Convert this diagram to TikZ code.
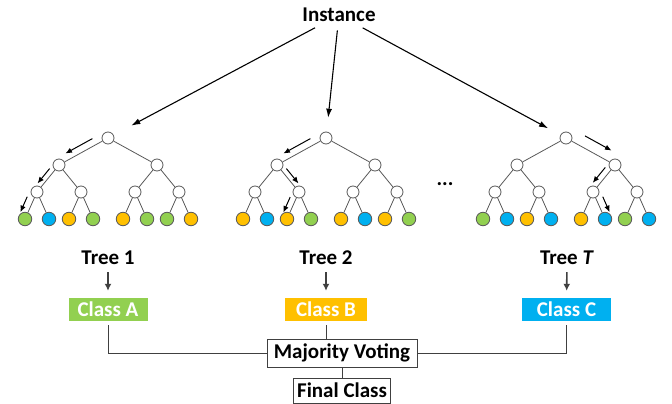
\documentclass[tikz,border=0pt]{standalone}
\usepackage{fontspec}
\setmainfont{Carlito}
\usetikzlibrary{arrows.meta,calc}
\definecolor{Ink}{HTML}{404040}
\definecolor{Edge}{HTML}{595959}
\definecolor{Green}{HTML}{92D050}
\definecolor{Blue}{HTML}{00B0F0}
\definecolor{Orange}{HTML}{FFC000}
\tikzset{inner/.style={circle,draw=Edge,fill=white,line width=.8pt,minimum size=12pt,inner sep=0pt},leaf/.style={circle,draw=Edge,line width=.8pt,minimum size=13.5pt,inner sep=0pt},edge/.style={draw=Edge,line width=.8pt},walk/.style={-{Latex[length=6.5pt,width=5.5pt]},line width=1pt},feed/.style={-{Latex[length=9pt,width=6pt]},line width=1.1pt,shorten <=5pt,shorten >=14pt},down/.style={-{Latex[length=7pt,width=7pt]},draw=Ink,line width=1.6pt,shorten <=7pt,shorten >=7pt},cls/.style={text=white,minimum height=23pt,inner sep=0pt},vote/.style={draw=Ink,fill=white,line width=.9pt,inner sep=0pt},link/.style={draw=Ink,line width=.9pt}}

\begin{document}
\begin{tikzpicture}[x=1pt,y=-1pt,every node/.style={font=\fontsize{21}{25}\selectfont\bfseries}]
  \useasboundingbox (0,0) rectangle (672,404);
  \node (inst) at (339,15) {Instance};
  % the three trees
  \foreach \t/\x/\ka/\kb/\kc/\kd/\ke/\kf/\kg/\kh in {1/108/Green/Blue/Orange/Green/Orange/Green/Green/Orange,2/326/Orange/Blue/Orange/Green/Orange/Blue/Orange/Green,3/566/Green/Blue/Orange/Blue/Orange/Blue/Green/Blue}{
    \node[inner](t\t-0) at (\x,138){};
    \node[inner](t\t-1) at (\x-49,165){};
    \node[inner](t\t-2) at (\x+49,165){};
    \node[inner](t\t-11) at (\x-71,192){};
    \node[inner](t\t-12) at (\x-27,192){};
    \node[inner](t\t-21) at (\x+27,192){};
    \node[inner](t\t-22) at (\x+71,192){};
    \draw[edge](t\t-0)--(t\t-1) (t\t-0)--(t\t-2) (t\t-1)--(t\t-11) (t\t-1)--(t\t-12) (t\t-2)--(t\t-21) (t\t-2)--(t\t-22);
    \foreach \d/\p/\col [count=\i] in {-83/11/\ka,-59/11/\kb,-39/12/\kc,-15/12/\kd,15/21/\ke,39/21/\kf,59/22/\kg,83/22/\kh}{
      \node[leaf,fill=\col](t\t-l\i) at (\x+\d,219){};
      \draw[edge](t\t-\p)--(t\t-l\i);
    }
  }
  \node (dots) at (445,184) {...};
  % paths of the instance through the trees
  \draw[walk]($(t1-0)!.25!(t1-1)!7pt!-90:(t1-1)$)--($(t1-0)!.8!(t1-1)!7pt!-90:(t1-1)$);
  \draw[walk]($(t1-1)!.25!(t1-11)!5pt!-90:(t1-11)$)--($(t1-1)!.8!(t1-11)!5pt!-90:(t1-11)$);
  \draw[walk]($(t1-11)!.28!(t1-l1)!7pt!-90:(t1-l1)$)--($(t1-11)!.85!(t1-l1)!7pt!-90:(t1-l1)$);
  \draw[walk]($(t2-0)!.25!(t2-1)!7pt!-90:(t2-1)$)--($(t2-0)!.8!(t2-1)!7pt!-90:(t2-1)$);
  \draw[walk]($(t2-1)!.25!(t2-12)!5pt!90:(t2-12)$)--($(t2-1)!.8!(t2-12)!5pt!90:(t2-12)$);
  \draw[walk]($(t2-12)!.28!(t2-l3)!6pt!-90:(t2-l3)$)--($(t2-12)!.85!(t2-l3)!6pt!-90:(t2-l3)$);
  \draw[walk]($(t3-0)!.28!(t3-2)!11pt!90:(t3-2)$)--($(t3-0)!.82!(t3-2)!11pt!90:(t3-2)$);
  \draw[walk]($(t3-2)!.23!(t3-21)!6pt!-90:(t3-21)$)--($(t3-2)!.8!(t3-21)!6pt!-90:(t3-21)$);
  \draw[walk]($(t3-21)!.28!(t3-l6)!7pt!90:(t3-l6)$)--($(t3-21)!.85!(t3-l6)!7pt!90:(t3-l6)$);
  \draw[feed,shorten >=20pt](inst)--(t1-0);\draw[feed](inst)--(t2-0);\draw[feed](inst)--(t3-0);
  % votes
  \node[inner sep=0pt](l1) at (108,258){Tree 1};
  \node[inner sep=0pt](l2) at (326,258){Tree 2};
  \node[inner sep=0pt](l3) at (567,258){Tree \textit{T}};
  \node[cls,fill=Green,minimum width=79pt](ca) at (108,309.5){Class A};
  \node[cls,fill=Orange,minimum width=82pt](cb) at (326,309.5){Class B};
  \node[cls,fill=Blue,minimum width=89pt](cc) at (566.5,309.5){Class C};
  \draw[down](l1)--(ca);\draw[down](l2)--(cb);\draw[down](l3)--(cc);
  \node[vote,minimum width=150pt,minimum height=28pt](mv) at (342,353){Majority Voting};
  \node[vote,minimum width=97pt,minimum height=25pt](fc) at (342,390.5){Final Class};
  \draw[link,shorten <=4pt](ca)|-(mv);\draw[link,shorten <=4pt](cc)|-(mv);
  \draw[link,shorten <=4pt](cb)--(cb|-mv.north);\draw[link](mv)--(fc);
\end{tikzpicture}
\end{document}
